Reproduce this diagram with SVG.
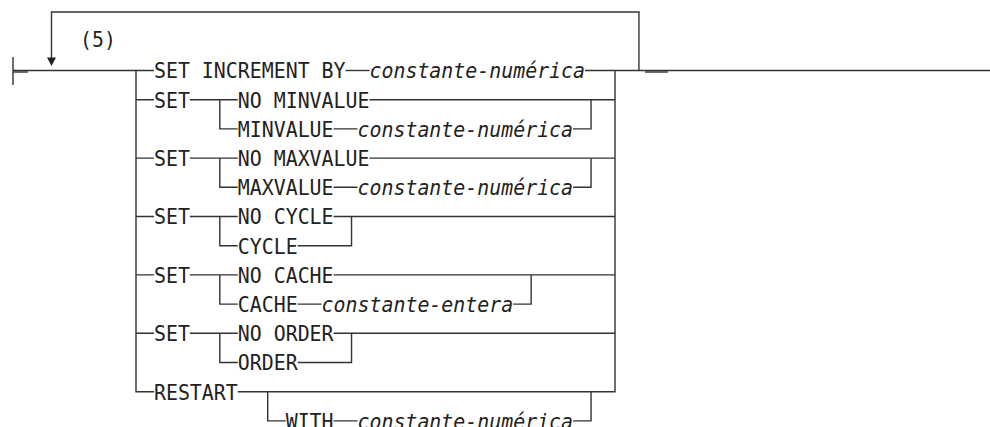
<svg xmlns="http://www.w3.org/2000/svg" width="990" height="427" viewBox="0 0 990 427">
  <style>
    .t { font-family: "DejaVu Sans Mono", "Liberation Mono", monospace; font-size: 21.5px; fill: #222; }
    .i { font-style: italic; }
    .c { fill: none; stroke: #333; stroke-width: 1.4; }
    .a { fill: #222; stroke: none; }
  </style>
  <rect width="990" height="427" fill="#fff"/>
  <g id="connectors">
    <path class="c" d="M13,57 V85"/>
    <path class="c" d="M13,72 H28"/>
    <path class="c" d="M13,70.5 H153.95"/>
    <path class="c" d="M345.55,70.5 H369.5"/>
    <path class="c" d="M585.05,70.5 H990"/>
    <path class="c" d="M645,72 H668"/>
    <path class="c" d="M638.94,70.5 V12 H51.5 V58"/>
    <polygon class="a" points="47,57.5 56,57.5 51.5,66"/>
    <path class="c" d="M136,70.5 V391.7 H153.95"/>
    <path class="c" d="M237.775,391.7 H615 V70.5"/>
    <path class="c" d="M136,99.7 H153.95 M189.875,99.7 H237.775 M369.5,99.7 H615"/>
    <path class="c" d="M219.81,99.7 V128.9 H237.775 M333.575,128.9 H357.525 M573.075,128.9 H591.04 V99.7"/>
    <path class="c" d="M136,158.1 H153.95 M189.875,158.1 H237.775 M369.5,158.1 H615"/>
    <path class="c" d="M219.81,158.1 V187.3 H237.775 M333.575,187.3 H357.525 M573.075,187.3 H591.04 V158.1"/>
    <path class="c" d="M136,216.5 H153.95 M189.875,216.5 H237.775 M333.575,216.5 H615"/>
    <path class="c" d="M219.81,216.5 V245.7 H237.775 M297.65,245.7 H351.54 V216.5"/>
    <path class="c" d="M136,274.9 H153.95 M189.875,274.9 H237.775 M333.575,274.9 H615"/>
    <path class="c" d="M219.81,274.9 V304.1 H237.775 M297.65,304.1 H321.6 M513.2,304.1 H531.16 V274.9"/>
    <path class="c" d="M136,333.3 H153.95 M189.875,333.3 H237.775 M333.575,333.3 H615"/>
    <path class="c" d="M219.81,333.3 V362.5 H237.775 M297.65,362.5 H351.54 V333.3"/>
    <path class="c" d="M267.71,391.7 V420.9 H285.675 M333.575,420.9 H357.525 M573.075,420.9 H591.04 V391.7"/>
  </g>
  <g id="note5"><text class="t" x="80" y="47" textLength="35.9" lengthAdjust="spacingAndGlyphs">(5)</text></g>
  <g id="set-increment">
    <text class="t" x="153.95" y="78.3" textLength="191.6" lengthAdjust="spacingAndGlyphs">SET INCREMENT BY</text>
    <text class="t i" x="369.5" y="78.3" textLength="215.55" lengthAdjust="spacingAndGlyphs">constante-numérica</text>
  </g>
  <g id="set-minvalue">
    <text class="t" x="153.95" y="107.5" textLength="35.925" lengthAdjust="spacingAndGlyphs">SET</text>
    <text class="t" x="237.775" y="107.5" textLength="131.725" lengthAdjust="spacingAndGlyphs">NO MINVALUE</text>
    <text class="t" x="237.775" y="136.7" textLength="95.8" lengthAdjust="spacingAndGlyphs">MINVALUE</text>
    <text class="t i" x="357.525" y="136.7" textLength="215.55" lengthAdjust="spacingAndGlyphs">constante-numérica</text>
  </g>
  <g id="set-maxvalue">
    <text class="t" x="153.95" y="165.9" textLength="35.925" lengthAdjust="spacingAndGlyphs">SET</text>
    <text class="t" x="237.775" y="165.9" textLength="131.725" lengthAdjust="spacingAndGlyphs">NO MAXVALUE</text>
    <text class="t" x="237.775" y="195.1" textLength="95.8" lengthAdjust="spacingAndGlyphs">MAXVALUE</text>
    <text class="t i" x="357.525" y="195.1" textLength="215.55" lengthAdjust="spacingAndGlyphs">constante-numérica</text>
  </g>
  <g id="set-cycle">
    <text class="t" x="153.95" y="224.3" textLength="35.925" lengthAdjust="spacingAndGlyphs">SET</text>
    <text class="t" x="237.775" y="224.3" textLength="95.8" lengthAdjust="spacingAndGlyphs">NO CYCLE</text>
    <text class="t" x="237.775" y="253.5" textLength="59.875" lengthAdjust="spacingAndGlyphs">CYCLE</text>
  </g>
  <g id="set-cache">
    <text class="t" x="153.95" y="282.7" textLength="35.925" lengthAdjust="spacingAndGlyphs">SET</text>
    <text class="t" x="237.775" y="282.7" textLength="95.8" lengthAdjust="spacingAndGlyphs">NO CACHE</text>
    <text class="t" x="237.775" y="311.9" textLength="59.875" lengthAdjust="spacingAndGlyphs">CACHE</text>
    <text class="t i" x="321.6" y="311.9" textLength="191.6" lengthAdjust="spacingAndGlyphs">constante-entera</text>
  </g>
  <g id="set-order">
    <text class="t" x="153.95" y="341.1" textLength="35.925" lengthAdjust="spacingAndGlyphs">SET</text>
    <text class="t" x="237.775" y="341.1" textLength="95.8" lengthAdjust="spacingAndGlyphs">NO ORDER</text>
    <text class="t" x="237.775" y="370.3" textLength="59.875" lengthAdjust="spacingAndGlyphs">ORDER</text>
  </g>
  <g id="restart">
    <text class="t" x="153.95" y="399.5" textLength="83.825" lengthAdjust="spacingAndGlyphs">RESTART</text>
    <text class="t" x="285.675" y="428.7" textLength="47.9" lengthAdjust="spacingAndGlyphs">WITH</text>
    <text class="t i" x="357.525" y="428.7" textLength="215.55" lengthAdjust="spacingAndGlyphs">constante-numérica</text>
  </g>
</svg>
